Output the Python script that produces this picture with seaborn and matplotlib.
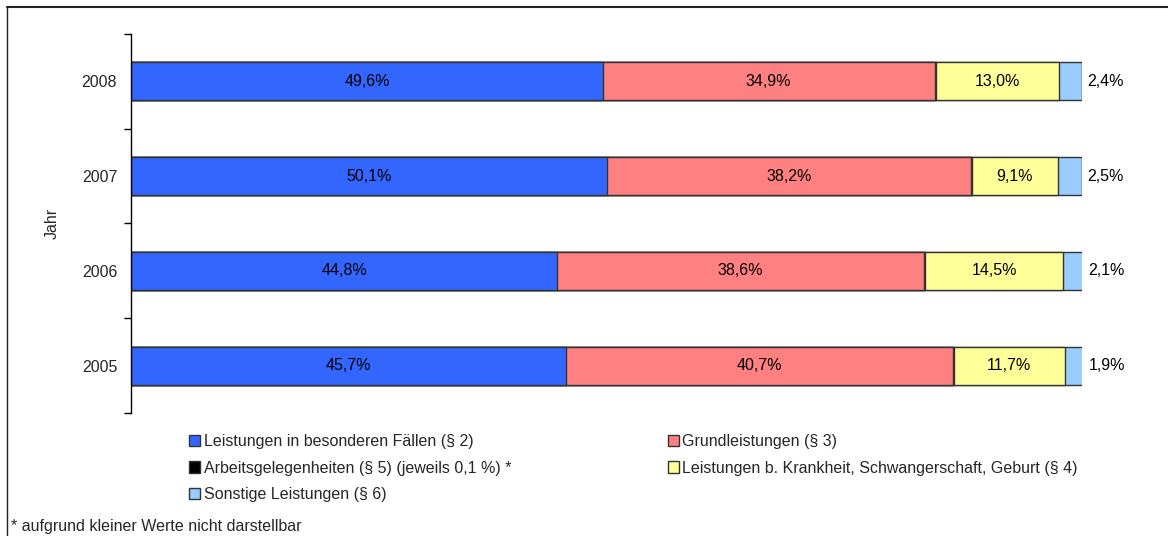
import numpy as np
import pandas as pd
import seaborn as sns
import matplotlib.pyplot as plt
from matplotlib.patches import Patch
from matplotlib.lines import Line2D

years = ['2008', '2007', '2006', '2005']
besondere = [49.6, 50.1, 44.8, 45.7]
grund = [34.9, 38.2, 38.6, 40.7]
arbeit = [0.1, 0.1, 0.1, 0.1]
krankheit = [13.0, 9.1, 14.5, 11.7]
sonstige = [2.4, 2.5, 2.1, 1.9]

series_names = ['Leistungen in besonderen Fällen (§ 2)',
                'Grundleistungen (§ 3)',
                'Arbeitsgelegenheiten (§ 5) (jeweils 0,1 %) *',
                'Leistungen b. Krankheit, Schwangerschaft, Geburt (§ 4)',
                'Sonstige Leistungen (§ 6)']
colors = ['#3366FF', '#FF8080', '#000000', '#FFFF99', '#99CCFF']

sns.set_theme(style='white')
plt.rcParams['font.family'] = ['Liberation Sans', 'DejaVu Sans']
FS = 11.5

df = pd.DataFrame({'Jahr': years, 's2': besondere, 's3': grund, 's5': arbeit,
                   's4': krankheit, 's6': sonstige})
cols = ['s2', 's3', 's5', 's4', 's6']
cum = df[cols].cumsum(axis=1)

fig = plt.figure(figsize=(11.68, 5.36), dpi=100)
ax = fig.add_axes([0.1122, 0.2295, 0.8142, 0.7071])

# draw cumulative bars from back to front
for c, col in reversed(list(zip(colors, cols))):
    sns.barplot(data=cum.assign(Jahr=df['Jahr']), x=col, y='Jahr', order=years,
                color=c, width=0.4, edgecolor='#333333', linewidth=1.0,
                saturation=1, ax=ax, orient='h')

# labels
for i, y in enumerate(years):
    starts = [0] + list(cum.iloc[i, :-1])
    vals = df.loc[i, cols].tolist()
    for k in [0, 1, 3]:
        ax.text(starts[k] + vals[k] / 2, i, f'{vals[k]:.1f}%'.replace('.', ','),
                ha='center', va='center', fontsize=FS, color='black')
    ax.text(cum.iloc[i, -1] + 0.6, i, f'{vals[4]:.1f}%'.replace('.', ','),
            ha='left', va='center', fontsize=FS, color='black')

ax.set_xlim(0, 100)
ax.set_ylim(3.5, -0.5)
ax.set_xlabel('')
ax.set_ylabel('Jahr', fontsize=FS, labelpad=16)
ax.set_xticks([])
ax.set_yticks(range(4))
ax.set_yticklabels(years, fontsize=FS)
ax.set_yticks(np.arange(-0.5, 4, 1), minor=True)
ax.tick_params(axis='y', which='major', length=0, pad=10)
ax.tick_params(axis='y', which='minor', length=5, width=1, color='black',
               direction='out', left=True)
for s in ['top', 'right', 'bottom']:
    ax.spines[s].set_visible(False)
ax.spines['left'].set_color('black')
ax.spines['left'].set_linewidth(1)

handles = [Patch(facecolor=colors[k], edgecolor='#333333', linewidth=1)
           for k in range(5)]
order = [0, 2, 4, 1, 3]
fig.legend([handles[k] for k in order], [series_names[k] for k in order],
           ncol=2, loc='upper left', bbox_to_anchor=(0.162, 0.19),
           frameon=False, fontsize=FS, handlelength=0.7, handleheight=0.7,
           handletextpad=0.2, labelspacing=0.72, columnspacing=9.8,
           borderaxespad=0, borderpad=0)

fig.text(0.009, 0.004, '* aufgrund kleiner Werte nicht darstellbar',
         fontsize=FS, ha='left', va='bottom')

# outer frame
fig.add_artist(Line2D([0.006, 1.0], [0.987, 0.987], color='#222222',
                      linewidth=1.5, transform=fig.transFigure))
fig.add_artist(Line2D([0.006, 0.006], [0.0, 0.987], color='#222222',
                      linewidth=1.0, transform=fig.transFigure))

fig.savefig('out.png', dpi=100)
